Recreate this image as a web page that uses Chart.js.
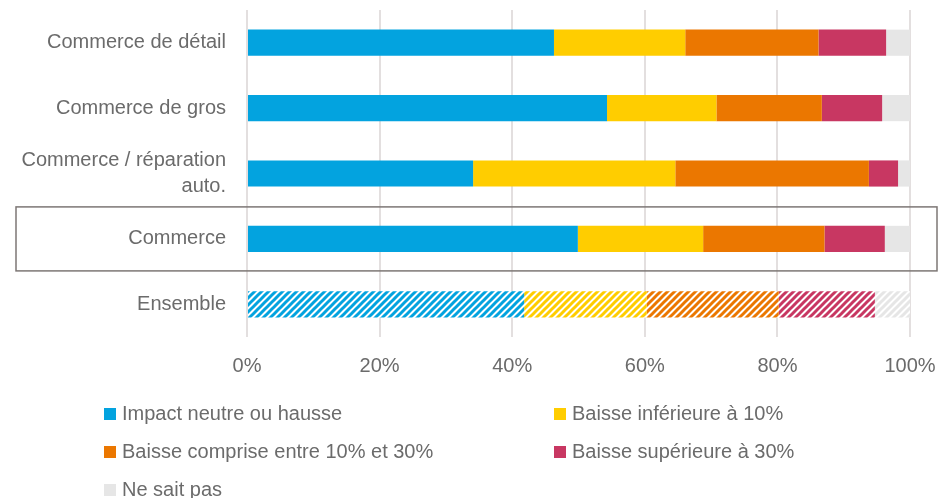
<!DOCTYPE html>
<html>
<head>
<meta charset="utf-8">
<script src="https://cdn.jsdelivr.net/npm/chart.js@4.4.1/dist/chart.umd.min.js"></script>
<style>
  body { margin: 0; background: #fff; }
  #wrap { position: relative; width: 939px; height: 498px; }
  #legend { position: absolute; left: 0; top: 0; width: 939px; height: 498px; pointer-events: none;
            font-family: "Liberation Sans Narrow", "Arial Narrow", "Liberation Sans", sans-serif; font-size: 20px; color: #6b6b6b; }
  .item { position: absolute; white-space: nowrap; line-height: 24px; }
  .item span.sq { display: inline-block; width: 12px; height: 12px; margin-right: 6px; vertical-align: 0px; }
</style>
</head>
<body>
<div id="wrap">
  <canvas id="chart" width="939" height="390"></canvas>
  <div id="legend"></div>
</div>
<script>
const FONT = '"Liberation Sans Narrow", "Arial Narrow", "Liberation Sans", sans-serif';

const categories = ["Commerce de détail", "Commerce de gros", ["Commerce / réparation", "auto."], "Commerce", "Ensemble"];
const seriesNames = ["Impact neutre ou hausse", "Baisse inférieure à 10%", "Baisse comprise entre 10% et 30%", "Baisse supérieure à 30%", "Ne sait pas"];
const neutreHausse = [46.3, 54.3, 34.1, 49.9, 41.8];
const baisseMoins10 = [19.8, 16.5, 30.5, 18.9, 18.5];
const baisse10a30 = [20.1, 15.9, 29.2, 18.3, 19.9];
const baissePlus30 = [10.2, 9.1, 4.4, 9.1, 14.5];
const neSaitPas = [3.6, 4.2, 1.8, 3.8, 5.3];
const xTicks = [0, 20, 40, 60, 80, 100];
const colors = ["#03a3df", "#ffcd00", "#eb7700", "#c83762", "#e6e6e6"];
const hatchedIndex = 4;   // "Ensemble" is drawn hatched
const boxedIndex = 3;     // "Commerce" gets a frame

// diagonal stripes for the Ensemble bar
function hatch(color) {
    const c = document.createElement("canvas");
    c.width = 7; c.height = 7;
    const g = c.getContext("2d");
    g.fillStyle = "#fff";
    g.fillRect(0, 0, 7, 7);
    g.strokeStyle = color;
    g.lineWidth = 3;
    g.beginPath();
    g.moveTo(-1, 8); g.lineTo(8, -1);
    g.moveTo(-4.5, 4.5); g.lineTo(4.5, -4.5);
    g.moveTo(2.5, 11.5); g.lineTo(11.5, 2.5);
    g.stroke();
    return document.getElementById("chart").getContext("2d").createPattern(c, "repeat");
}

const values = [neutreHausse, baisseMoins10, baisse10a30, baissePlus30, neSaitPas];
const datasets = values.map((v, i) => ({
    label: seriesNames[i],
    data: v,
    backgroundColor: categories.map((_, k) => k === hatchedIndex ? hatch(colors[i]) : colors[i]),
    borderWidth: 0,
    barPercentage: 0.8,
    categoryPercentage: 0.5
}));

const boxPlugin = {
    id: "boxPlugin",
    afterDraw(chart) {
        const y = chart.scales.y;
        const yc = y.getPixelForValue(boxedIndex);
        const ctx = chart.ctx;
        ctx.save();
        ctx.strokeStyle = "#7d7775";
        ctx.lineWidth = 1.5;
        ctx.strokeRect(16, yc - 32, 921, 64);
        ctx.restore();
    }
};

new Chart(document.getElementById("chart"), {
    type: "bar",
    data: { labels: categories, datasets: datasets },
    options: {
        indexAxis: "y",
        responsive: false,
        animation: false,
        layout: { padding: { top: 10, right: 29, left: 0, bottom: 0 } },
        plugins: { legend: { display: false }, tooltip: { enabled: false } },
        scales: {
            x: {
                stacked: true,
                min: 0, max: 100,
                afterBuildTicks: s => { s.ticks = xTicks.map(v => ({ value: v })); },
                afterFit: s => { s.height = 53; s.paddingLeft = 0; s.paddingRight = 0; },
                grid: { color: "#e3dfdf", lineWidth: 2, drawTicks: false },
                border: { display: false },
                ticks: { padding: 17, color: "#6b6b6b", font: { family: FONT, size: 20 }, callback: v => v + "%" }
            },
            y: {
                stacked: true,
                afterFit: s => { s.width = 247; s.paddingTop = 0; s.paddingBottom = 0; },
                grid: { display: false, drawTicks: false },
                border: { display: false },
                ticks: { padding: 21, color: "#6b6b6b", font: { family: FONT, size: 20, lineHeight: 1.3 } }
            }
        }
    },
    plugins: [boxPlugin]
});

// legend in two columns
const legend = document.getElementById("legend");
seriesNames.forEach((name, i) => {
    const d = document.createElement("div");
    d.className = "item";
    d.style.left = (104 + (i % 2) * 450) + "px";
    d.style.top = (401 + Math.floor(i / 2) * 38) + "px";
    d.innerHTML = '<span class="sq" style="background:' + colors[i] + '"></span>' + name;
    legend.appendChild(d);
});
</script>
</body>
</html>
